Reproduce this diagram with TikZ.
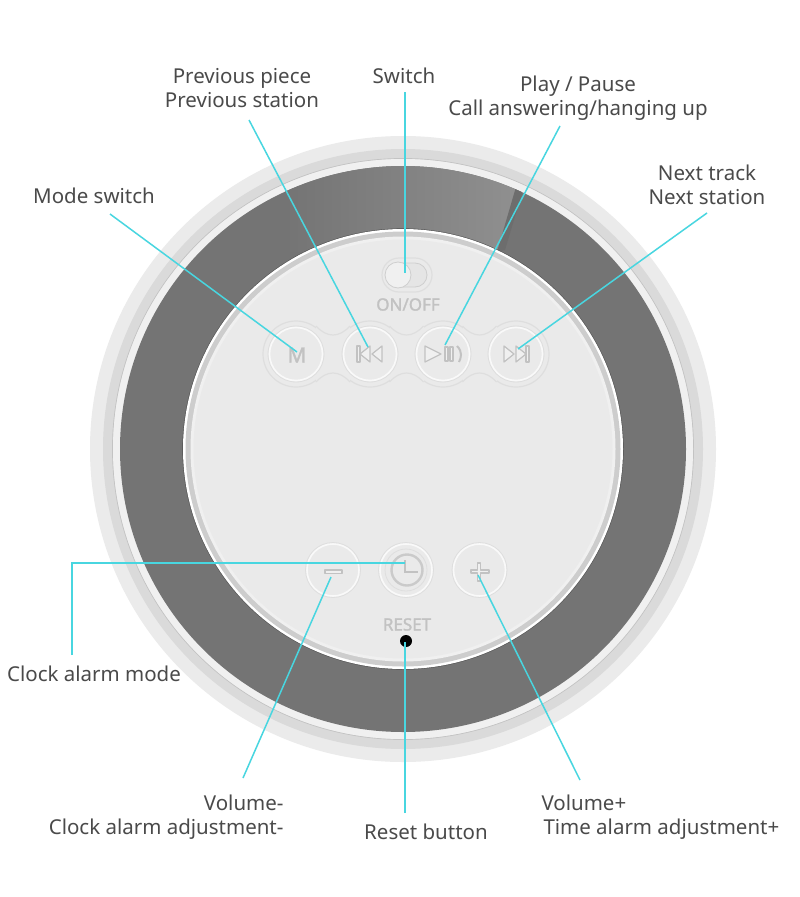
\documentclass[tikz,border=0pt]{standalone}
\usepackage{fontspec}
\setmainfont{Noto Sans}
\newfontfamily\embossfont[FakeBold=1.6]{Noto Sans}
\usetikzlibrary{positioning,calc}
\definecolor{ink}{HTML}{4A4A4A}
\definecolor{lead}{HTML}{48D6E0}
\definecolor{rimout}{HTML}{EBEBEB}
\definecolor{rimmid}{HTML}{DADADA}
\definecolor{rimin}{HTML}{F0F0F0}
\definecolor{ring}{HTML}{747474}
\definecolor{ringlight}{HTML}{909090}
\definecolor{rimedge}{HTML}{CDCDCD}
\definecolor{face}{HTML}{EAEAEA}
\definecolor{halo}{HTML}{DEDEDE}
\definecolor{glyph}{HTML}{C2C2C2}

\begin{document}
\begin{tikzpicture}[x=1pt,y=-1pt,line width=1pt,every node/.style={font=\fontsize{20.5}{24}\selectfont,text=ink,inner sep=0pt},leadline/.style={lead,line width=1.5pt},btnring/.style={fill=face,draw=rimin!40!white,line width=1.6pt},iconline/.style={draw=glyph,line width=1.2pt,fill=rimin,line join=round},emboss/.style={font=\fontsize{17}{17}\embossfont,text=glyph}]
\path[use as bounding box] (0,0) rectangle (800,897);
\fill[white] (0,0) rectangle (800,897);

% body of the speaker
\fill[rimout] (403,449) circle (313pt);
\fill[rimmid] (403,449) circle (300pt);
\draw[rimedge!95!black,line width=.8pt] (403,449) circle (290.5pt);
\fill[rimin] (403,449) circle (290pt);
\fill[ring] (403,449) circle (283pt);
\begin{scope}
\clip (403,449) circle (283pt);
\shade[left color=ring,right color=ringlight] (285,160)--(522,160)--(522,185)--(497,252)--(285,252)--cycle;
\fill[ring!94!black] (518,180)--(526,180)--(505,250)--(497,252)--cycle;
\end{scope}
\fill[ring!70!black] (403,449) circle (220.6pt);
\fill[white] (403,449) circle (220pt);
\fill[rimedge] (403,449) circle (217.5pt);
\fill[rimin] (403,449) circle (212.5pt);
\fill[face] (403,449) circle (209.5pt);

% upper row of buttons
\foreach \x in {296,370,443,516} \draw[halo,line width=1.2pt] (\x,354) circle (33pt);
\foreach \x in {333,406.5,479.5} {
\fill[face] (\x-17,354-30) rectangle (\x+17,354+30);
\draw[halo,line width=1.2pt] (\x-17,354-28) .. controls (\x-6,354-16) and (\x+6,354-16) .. (\x+17,354-28);
\draw[halo,line width=1.2pt] (\x-17,354+28) .. controls (\x-6,354+16) and (\x+6,354+16) .. (\x+17,354+28);
}
\foreach \x in {296,370,443,516} {
\draw[halo,line width=.8pt] (\x,354) circle (28pt);
\draw[btnring] (\x,354) circle (26.5pt);
}

% lower row of buttons
\foreach \x in {333,406,479.5} {
\draw[halo,line width=.8pt] (\x,570) circle (27.5pt);
\draw[btnring] (\x,570) circle (26pt);
}
\draw[halo,line width=.8pt] (406,570) circle (21pt);

% slide switch
\draw[halo,fill=face,line width=1.2pt,rounded corners=17pt] (382,258) rectangle (432,292);
\draw[glyph!70!face,fill=rimmid!30!face,line width=.8pt,rounded corners=12pt] (387,263) rectangle (427,287);
\draw[glyph!70!face,fill=rimin,line width=.8pt] (398,275) circle (13pt);

% icons
\node[emboss,font=\fontsize{21}{21}\embossfont] (iconM) at (297,355) {M};
\draw[iconline] (357,346) rectangle (360,362);
\draw[iconline] (360,354)--(370,346)--(370,362)--cycle;
\draw[iconline] (372,354)--(382,346)--(382,362)--cycle;
\draw[iconline] (425,346)--(441,354)--(425,362)--cycle;
\draw[iconline] (445,347) rectangle (448,361);
\draw[iconline] (450,347) rectangle (453,361);
\draw[glyph,line width=2pt] (457,346) .. controls (463,352) and (461,358) .. (459,362);
\draw[iconline] (529,346) rectangle (526,362);
\draw[iconline] (526,354)--(516,346)--(516,362)--cycle;
\draw[iconline] (514,354)--(504,346)--(504,362)--cycle;
\draw[iconline] (325,570) rectangle (342,573.5);
\draw[glyph!80!face,line width=2.4pt] (407,570) circle (15.5pt);
\draw[glyph,line width=2pt] (405,560)--(405,572)--(418,572);
\draw[iconline] (477.5,563)--(480.5,563)--(480.5,570)--(489,570)--(489,573)--(480.5,573)--(480.5,581)--(477.5,581)--(477.5,573)--(471,573)--(471,570)--(477.5,570)--cycle;
\node[emboss] (onOff) at (408,304.5) {ON/OFF};
\node[emboss] (resetMark) at (407,624.5) {RESET};
\fill[black] (406,641) circle (6pt);

% labels
\node[align=center] (prevLabel) at (242,88) {Previous piece\\Previous station};
\node (switchLabel) at (404,76) {Switch};
\node[align=center] (playLabel) at (578,98) {Play / Pause\\Call answering/hanging up};
\node[align=center] (nextLabel) at (707,185) {Next track\\Next station};
\node (modeLabel) at (94,196) {Mode switch};
\node (clockLabel) at (94,674) {Clock alarm mode};
\node[align=right,anchor=east] (minusLabel) at (284,817) {Volume-\\Clock alarm adjustment-};
\node (resetLabel) at (426,832) {Reset button};
\node[align=left,anchor=west] (plusLabel) at (541,817) {Volume+\\\hspace*{2pt}Time alarm adjustment+};

% leaders
\coordinate (prevTop) at (249,120);
\coordinate (prevEnd) at (368,347);
\coordinate (switchTop) at (405,92);
\coordinate (switchEnd) at (405,273);
\coordinate (playTop) at (560,126);
\coordinate (playEnd) at (445,345);
\coordinate (nextTop) at (707,213);
\coordinate (nextEnd) at (518,349);
\coordinate (modeTop) at (110,214);
\coordinate (modeEnd) at (297,352);
\coordinate (clockTop) at (72,655);
\coordinate (clockBend) at (72,563);
\coordinate (clockEnd) at (405,563);
\coordinate (minusTop) at (243,778);
\coordinate (minusEnd) at (331,577);
\coordinate (plusTop) at (580,780);
\coordinate (plusEnd) at (478,575);
\coordinate (resetTop) at (405,813);
\coordinate (resetEnd) at (405,642);
\draw[leadline] (prevTop)--(prevEnd);
\draw[leadline] (switchTop)--(switchEnd);
\draw[leadline] (playTop)--(playEnd);
\draw[leadline] (nextTop)--(nextEnd);
\draw[leadline] (modeTop)--(modeEnd);
\draw[leadline] (clockTop)--(clockBend)--(clockEnd);
\draw[leadline] (minusTop)--(minusEnd);
\draw[leadline] (plusTop)--(plusEnd);
\draw[leadline] (resetTop)--(resetEnd);
\end{tikzpicture}
\end{document}
